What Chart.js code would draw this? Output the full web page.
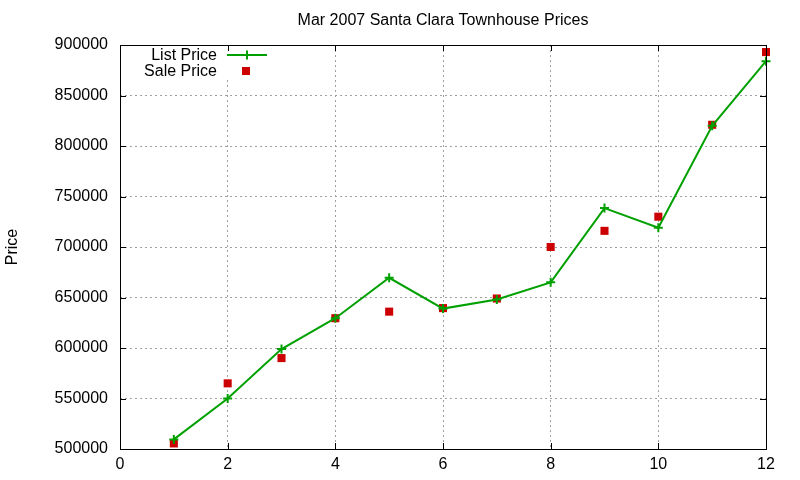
<!DOCTYPE html>
<html>
<head>
<meta charset="utf-8">
<script src="https://cdn.jsdelivr.net/npm/chart.js@4/dist/chart.umd.min.js"></script>
<style>
  html, body { margin: 0; padding: 0; background: #fff; }
  #c { display: block; }
</style>
</head>
<body>
<canvas id="c" width="800" height="480"></canvas>
<script>
const months = [1, 2, 3, 4, 5, 6, 7, 8, 9, 10, 11, 12];
const listPrices = [509500, 550000, 599000, 629500, 669500, 639000, 648000, 665000, 738500, 719000, 820000, 884000];
const salePrices = [505500, 565000, 590000, 629500, 636000, 639500, 649000, 700000, 716000, 730000, 821000, 893000];
const chartTitle = 'Mar 2007 Santa Clara Townhouse Prices';
const yTitle = 'Price';

const FONT = '"Liberation Sans", Arial, sans-serif';
const GREEN = '#00a000';
const RED = '#cc0000';

// gnuplot-ish frame: mirrored border, inward ticks, title and the legend box
const gnuplotFrame = {
    id: 'gnuplotFrame',
    beforeDatasetsDraw(chart) {
        const { ctx, chartArea: a } = chart;
        // legend sits on top of the grid
        ctx.save();
        ctx.fillStyle = '#fff';
        ctx.fillRect(a.left + 1, a.top + 1, 155, 32);
        ctx.restore();
    },
    afterDraw(chart) {
        const { ctx, chartArea: a, scales } = chart;
        ctx.save();
        ctx.strokeStyle = '#000';
        ctx.lineWidth = 1;
        ctx.strokeRect(a.left + 0.5, a.top + 0.5, a.right - a.left, a.bottom - a.top);

        const t = 6;
        ctx.beginPath();
        scales.x.ticks.forEach(tk => {
            const px = Math.round(scales.x.getPixelForValue(tk.value)) + 0.5;
            ctx.moveTo(px, a.bottom); ctx.lineTo(px, a.bottom - t);
            ctx.moveTo(px, a.top); ctx.lineTo(px, a.top + t);
        });
        scales.y.ticks.forEach(tk => {
            const py = Math.round(scales.y.getPixelForValue(tk.value)) + 0.5;
            ctx.moveTo(a.left, py); ctx.lineTo(a.left + t, py);
            ctx.moveTo(a.right, py); ctx.lineTo(a.right - t, py);
        });
        ctx.stroke();

        // title
        ctx.fillStyle = '#000';
        ctx.font = '16px ' + FONT;
        ctx.textAlign = 'center';
        ctx.textBaseline = 'middle';
        ctx.fillText(chartTitle, (a.left + a.right) / 2, 21);

        // legend
        const ds = chart.data.datasets;
        ctx.font = '16px ' + FONT;
        ctx.textAlign = 'right';
        ctx.fillText(ds[0].label, 217, 56);
        ctx.fillText(ds[1].label, 217, 72);

        ctx.strokeStyle = GREEN;
        ctx.lineWidth = 2;
        ctx.beginPath();
        ctx.moveTo(227, 55); ctx.lineTo(267, 55);
        ctx.moveTo(247, 50.5); ctx.lineTo(247, 59.5);
        ctx.stroke();

        ctx.fillStyle = RED;
        ctx.fillRect(242, 67, 8, 8);
        ctx.restore();
    }
};

new Chart(document.getElementById('c'), {
    type: 'line',
    data: {
        datasets: [
            {
                label: 'List Price',
                data: months.map((m, i) => ({ x: m, y: listPrices[i] })),
                borderColor: GREEN,
                backgroundColor: GREEN,
                borderWidth: 2,
                pointStyle: 'cross',
                pointRadius: 4.5,
                pointBorderWidth: 2,
                tension: 0,
                fill: false,
                clip: false
            },
            {
                label: 'Sale Price',
                data: months.map((m, i) => ({ x: m, y: salePrices[i] })),
                showLine: false,
                borderColor: RED,
                backgroundColor: RED,
                pointStyle: 'rect',
                pointRadius: 5.7,
                pointBorderWidth: 0,
                clip: false
            }
        ]
    },
    options: {
        responsive: false,
        animation: false,
        devicePixelRatio: 1,
        layout: { padding: { top: 45, right: 34, bottom: 0, left: 0 } },
        plugins: {
            legend: { display: false },
            title: { display: false },
            tooltip: { enabled: false }
        },
        scales: {
            x: {
                type: 'linear',
                min: 0,
                max: 12,
                ticks: { stepSize: 2, color: '#000', font: { family: FONT, size: 16 }, padding: 6, maxRotation: 0 },
                grid: { color: '#a0a0a0', drawTicks: false, tickLength: 0 },
                border: { display: false, dash: [2, 3] },
                afterFit(scale) { scale.height = 31; }
            },
            y: {
                min: 500000,
                max: 900000,
                ticks: { stepSize: 50000, color: '#000', font: { family: FONT, size: 16 }, padding: 12, callback: v => String(v) },
                grid: { color: '#a0a0a0', drawTicks: false, tickLength: 0 },
                border: { display: false, dash: [2, 3] },
                title: { display: true, text: yTitle, color: '#000', font: { family: FONT, size: 16 }, padding: { top: 3, bottom: 0 } },
                afterFit(scale) { scale.width = 120; }
            }
        }
    },
    plugins: [gnuplotFrame]
});
</script>
</body>
</html>
